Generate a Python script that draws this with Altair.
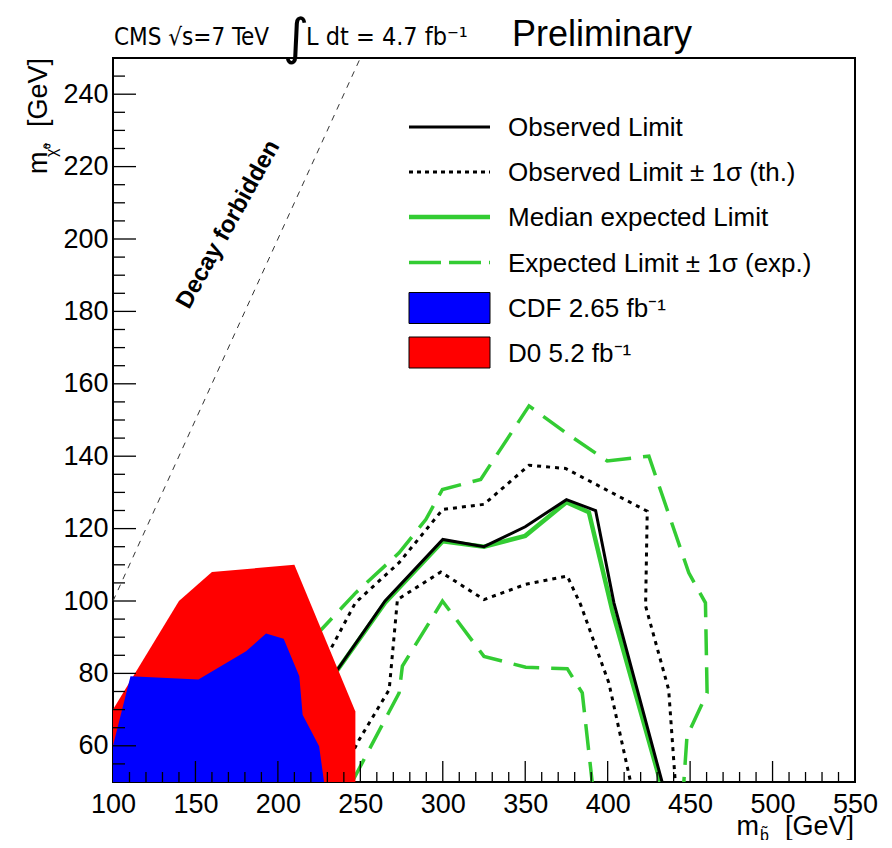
import altair as alt
import pandas as pd

W, H = 742, 724
FONT = "Liberation Sans"
NARROW = "'Liberation Sans Narrow', 'DejaVu Sans Condensed', 'Roboto Condensed', 'Liberation Sans'"
GREEN = "#33cc33"

# ---------------- data ----------------
red_x = [100, 140, 160, 210, 247]
red_y = [70, 100, 108, 110, 69.5]

blue_x = [100, 110.6, 151.8, 180.7, 192.8, 203.5, 213, 215, 225, 228]
blue_y = [60, 79.2, 78.3, 86.1, 91, 89.6, 79.2, 68.6, 59.9, 50]

obs_x = [230, 265, 300, 325, 350, 375, 392.7, 403.8, 433]
obs_y = [77, 100, 117, 115, 120.5, 128, 125, 99.5, 50]

exp_x = [230, 265, 300, 325, 350, 375, 388.6, 403, 432]
exp_y = [77, 99.5, 116.5, 115, 118, 127.3, 124.5, 97, 50]

obs_up_x = [230, 247, 273.5, 300, 325, 352.3, 374.5, 424, 423, 437, 441]
obs_up_y = [85, 99.5, 110.6, 125.3, 126.7, 137.5, 136.6, 124.8, 98.6, 75.5, 50]

obs_dn_x = [244, 249.3, 267.5, 272.5, 298.8, 325, 350.3, 375.5, 383.6, 400.7, 413.9]
obs_dn_y = [57, 61.7, 75.5, 100.4, 108, 100.4, 104.6, 106.9, 99, 77.4, 50]

exp_up_x = [222, 247.3, 273.5, 289.7, 299.8, 323, 352.3, 374.5, 399.7, 425, 449.2, 459.3, 460.3, 448.1, 446.2]
exp_up_y = [90, 102.3, 113.3, 122.5, 130.8, 133.6, 153.9, 146.5, 138.7, 140, 107.8, 99.5, 74.6, 62.6, 50]

exp_dn_x = [245, 273.5, 275.5, 299.8, 325, 350.3, 375.5, 384.6, 390.6]
exp_dn_y = [50, 74.6, 82, 100, 84.7, 81.7, 81.3, 74.6, 50]

diag_x = [100, 250]
diag_y = [100, 250]

x_major = list(range(100, 551, 50))
x_minor = [v for v in range(110, 550, 10) if v % 50 != 0]
y_major = list(range(60, 241, 20))
y_minor = [v for v in range(55, 250, 5) if (v - 60) % 20 != 0]

legend_labels = [
    "Observed Limit",
    "Observed Limit ± 1σ (th.)",
    "Median expected Limit",
    "Expected Limit ± 1σ (exp.)",
    "CDF 2.65 fb⁻¹",
    "D0 5.2 fb⁻¹",
]


def df(xs, ys):
    return pd.DataFrame({"x": xs, "y": ys, "i": list(range(len(xs)))})


xs = alt.Scale(domain=[100, 550], nice=False, zero=False)
ys = alt.Scale(domain=[50, 250], nice=False, zero=False)

X = alt.X(
    "x:Q",
    scale=xs,
    axis=alt.Axis(
        values=x_major, ticks=False, domain=False, grid=False, title=None,
        labelFont=FONT, labelFontSize=27, labelColor="black", labelPadding=9,
        labelFlush=False, labelOverlap=False,
    ),
)
Y = alt.Y(
    "y:Q",
    scale=ys,
    axis=alt.Axis(
        values=y_major, ticks=False, domain=False, grid=False, title=None,
        labelFont=FONT, labelFontSize=27, labelColor="black", labelPadding=5,
        labelFlush=False, labelOverlap=False,
    ),
)
Xn = alt.X("x:Q", scale=xs)
Yn = alt.Y("y:Q", scale=ys, stack=None)


def line(xv, yv, color, width, dash=None):
    kw = dict(color=color, strokeWidth=width, clip=True)
    if dash:
        kw["strokeDash"] = dash
    return alt.Chart(df(xv, yv)).mark_line(**kw).encode(x=Xn, y=Yn, order="i:Q")


base = alt.Chart(df(diag_x, diag_y)).mark_line(
    color="#333333", strokeWidth=1, strokeDash=[6, 6]
).encode(x=X, y=Y, order="i:Q")

decay_txt = alt.Chart(pd.DataFrame({"x": [170], "y": [204], "t": ["Decay forbidden"]})).mark_text(
    font=FONT, fontSize=24, fontWeight="bold", angle=299, align="center", baseline="middle", color="black"
).encode(x=Xn, y=Yn, text="t:N")

l_exp_up = line(exp_up_x, exp_up_y, GREEN, 3.5, [26, 12])
l_exp_dn = line(exp_dn_x, exp_dn_y, GREEN, 3.5, [26, 12])
l_obs_up = line(obs_up_x, obs_up_y, "black", 3, [4, 5])
l_obs_dn = line(obs_dn_x, obs_dn_y, "black", 3, [4, 5])
l_exp = line(exp_x, exp_y, GREEN, 4.5)
l_obs = line(obs_x, obs_y, "black", 3)

red = alt.Chart(df(red_x, red_y)).mark_area(color="#ff0000", clip=True).encode(x=Xn, y=Yn)
blue = alt.Chart(df(blue_x, blue_y)).mark_area(color="#0000ff", clip=True).encode(x=Xn, y=Yn)

# inside ticks
tx_maj = alt.Chart(pd.DataFrame({"x": x_major[1:-1]})).mark_rule(color="black", strokeWidth=1.3).encode(
    x=Xn, y=alt.value(H), y2=alt.value(H - 21))
tx_min = alt.Chart(pd.DataFrame({"x": x_minor})).mark_rule(color="black", strokeWidth=1.3).encode(
    x=Xn, y=alt.value(H), y2=alt.value(H - 10))
ty_maj = alt.Chart(pd.DataFrame({"y": y_major})).mark_rule(color="black", strokeWidth=1.3).encode(
    y=Yn, x=alt.value(0), x2=alt.value(23))
ty_min = alt.Chart(pd.DataFrame({"y": y_minor})).mark_rule(color="black", strokeWidth=1.3).encode(
    y=Yn, x=alt.value(0), x2=alt.value(12))

# legend
LX1, LX2, TX = 296, 377, 395
rows = [69, 114, 159, 204.5, 250, 294.5]


def leg_rule(yv, color, width, dash=None):
    kw = dict(color=color, strokeWidth=width)
    if dash:
        kw["strokeDash"] = dash
    return alt.Chart(pd.DataFrame({"a": [0]})).mark_rule(**kw).encode(
        x=alt.value(LX1), x2=alt.value(LX2), y=alt.value(yv))


leg = [
    leg_rule(rows[0], "black", 3),
    leg_rule(rows[1], "black", 3, [4, 4]),
    leg_rule(rows[2], GREEN, 4.5),
    leg_rule(rows[3], GREEN, 3.5, [32, 8]),
]
for yc, col in [(rows[4], "#0000ff"), (rows[5], "#ff0000")]:
    leg.append(alt.Chart(pd.DataFrame({"a": [0]})).mark_rect(
        fill=col, stroke="black", strokeWidth=1).encode(
        x=alt.value(LX1), x2=alt.value(LX2), y=alt.value(yc - 15.5), y2=alt.value(yc + 15.5)))
for yc, lab in zip(rows, legend_labels):
    leg.append(alt.Chart(pd.DataFrame({"a": [0]})).mark_text(
        font=FONT, fontSize=26, align="left", baseline="middle", color="black").encode(
        x=alt.value(TX), y=alt.value(yc + 1), text=alt.value(lab)))


def txt(s, x, y, size, **kw):
    return alt.Chart(pd.DataFrame({"a": [0]})).mark_text(
        font=kw.pop("font", FONT), fontSize=size, color="black",
        align=kw.pop("align", "left"), baseline=kw.pop("baseline", "alphabetic"), **kw).encode(
        x=alt.value(x), y=alt.value(y), text=alt.value(s))


titles = [
    txt("CMS √s=7 TeV", 1, -13, 24, font=NARROW),
    txt("∫", 170, -4, 50, font="DejaVu Sans"),
    txt("L dt = 4.7 fb⁻¹", 193, -13, 25, font=NARROW),
    txt("Preliminary", 399, -12, 36),
    # x-axis title
    txt("[GeV]", 741, 777, 27, align="right"),
    txt("m", 646, 777, 27, align="right"),
    txt("b̃", 647, 783, 16),
    # y-axis title
    txt("[GeV]", -66, 0, 27, align="right", angle=270),
    txt("m", -66, 116, 27, align="left", angle=270),
    txt("χ̃⁰", -56, 99, 16, align="left", angle=270),
]

chart = alt.layer(
    base, decay_txt,
    l_exp_up, l_exp_dn, l_obs_up, l_obs_dn, l_exp, l_obs,
    red, blue,
    tx_maj, tx_min, ty_maj, ty_min,
    *leg, *titles,
).properties(
    width=W, height=H,
    autosize=alt.AutoSizeParams(type="none"),
    padding={"left": 105, "top": 50, "right": 29, "bottom": 58},
).configure(background="white").configure_view(
    stroke="black", strokeWidth=2
)

chart.save("out.html", embed_options={"renderer": "svg", "actions": False})
